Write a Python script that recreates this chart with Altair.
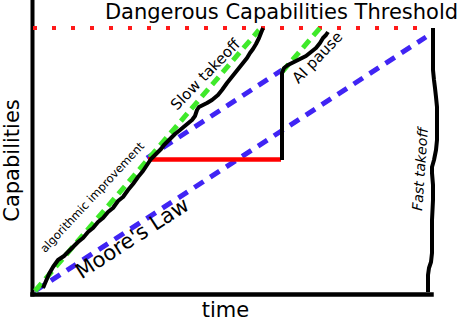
import altair as alt
import pandas as pd

# ---- data (arbitrary units: time vs capabilities) ----
threshold_t = [1, 400]
threshold_c = [266, 266]

moore_t = [3, 394]
moore_c = [3, 257]

moore_after_pause_t = [115, 250]
moore_after_pause_c = [136, 224]

algo_t = [3, 227]
algo_c = [3, 264]

algo_after_pause_t = [250, 288]
algo_after_pause_c = [222, 266]

pause_t = [116, 249]
pause_c = [134.5, 134.5]

slow_t = [11, 14, 17, 21, 26, 32, 37, 41, 46, 51, 56, 61, 66, 71, 76, 81, 86, 91,
          96, 101, 106, 111, 115, 119, 124, 129, 132, 137, 143, 148, 154, 160, 163,
          165, 167, 171, 175, 180, 186, 190, 195, 199, 203, 207, 211, 215, 218, 221,
          224, 227, 229, 231]
slow_c = [6, 13, 20, 27, 34, 38, 43, 47, 52, 56, 62, 66, 72, 76, 82, 86, 93, 97,
          104, 110, 117, 123, 129, 135, 140, 145, 149, 154, 160, 164, 169, 174, 178,
          184, 187, 189, 191, 194, 199, 204, 211, 216, 221, 226, 231, 236, 241, 245,
          250, 256, 261, 266]

aipause_t = [250, 250, 252, 256, 260, 268, 274, 279, 284, 288, 291, 294, 296]
aipause_c = [134, 221, 226, 229, 231, 235, 238, 242, 246, 251, 256, 259, 262]

fast_t = [401, 401, 401, 402, 403, 404, 405, 405, 405, 404, 402, 400, 400, 401,
          401, 400, 400, 400, 399, 397, 396, 396, 396]
fast_c = [266, 244, 224, 214, 206, 197, 187, 169, 154, 144, 134, 127, 121, 109,
          94, 74, 54, 41, 32, 26, 19, 9, 2]

labels = ["Dangerous Capabilities Threshold", "Moore's Law", "Slow takeoff",
          "AI pause", "algorithmic improvement", "Fast takeoff"]

FONT = "DejaVu Sans"
BLUE = "#4024f4"
GREEN = "#3fe92a"
RED = "#ff1a1a"

XS = alt.Scale(domain=[0, 399], nice=False, zero=False)
YS = alt.Scale(domain=[0, 294], nice=False, zero=False)

xaxis = alt.Axis(title="time", domain=True, domainColor="black", domainWidth=4.5,
                 domainCap="square", ticks=False, labels=False, grid=False,
                 titleFont=FONT, titleFontSize=21, titleFontWeight="normal",
                 titleColor="black", titleX=193, titleY=22.5, titleAlign="center",
                 titleBaseline="alphabetic")
yaxis = alt.Axis(title="Capabilities", domain=True, domainColor="black", domainWidth=4,
                 domainCap="square", ticks=False, labels=False, grid=False,
                 titleFont=FONT, titleFontSize=21, titleFontWeight="normal",
                 titleColor="black", titleX=-14, titleY=160, titleAngle=270,
                 titleAlign="center", titleBaseline="alphabetic")


def line(ts, cs, color, width, dash=None):
    df = pd.DataFrame({"t": ts, "c": cs, "i": list(range(len(ts)))})
    kw = dict(color=color, strokeWidth=width, strokeJoin="round")
    if dash:
        kw["strokeDash"] = dash
    return alt.Chart(df).mark_line(**kw).encode(
        x=alt.X("t:Q", scale=XS, axis=xaxis),
        y=alt.Y("c:Q", scale=YS, axis=yaxis),
        order="i:Q",
    )


def label(text, t, c, size, angle, italic=False):
    df = pd.DataFrame({"t": [t], "c": [c], "s": [text]})
    return alt.Chart(df).mark_text(
        font=FONT, fontSize=size, angle=angle, align="center",
        baseline="alphabetic", color="black",
        fontStyle="italic" if italic else "normal",
    ).encode(
        x=alt.X("t:Q", scale=XS, axis=xaxis),
        y=alt.Y("c:Q", scale=YS, axis=yaxis),
        text="s:N",
    )


layers = [
    line(threshold_t, threshold_c, RED, 4, [4, 15]),
    line(moore_t, moore_c, BLUE, 5, [11, 8]),
    line(moore_after_pause_t, moore_after_pause_c, BLUE, 5, [11, 8]),
    line(algo_t, algo_c, GREEN, 5, [10, 6]),
    line(algo_after_pause_t, algo_after_pause_c, GREEN, 5, [10, 6]),
    line(pause_t, pause_c, "#ff0000", 4.5),
    line(slow_t, slow_c, "black", 4),
    line(aipause_t, aipause_c, "black", 4),
    line(fast_t, fast_c, "black", 4),
    label(labels[0], 249.5, 275.5, 21, 0),
    label(labels[1], 104, 50, 21, 327),
    label(labels[2], 177, 216, 15, 314),
    label(labels[3], 289, 233, 15, 314),
    label(labels[4], 63, 94, 11.5, 313),
    label(labels[5], 393, 124.5, 14, 274, italic=True),
]

chart = alt.layer(*layers).properties(
    width=399,
    height=294,
    padding={"left": 32, "top": 0, "right": 29, "bottom": 28},
    autosize=alt.AutoSizeParams(type="none"),
    background="white",
).configure_view(stroke=None)

chart.save("out.html", embed_options={"renderer": "svg", "actions": False})
